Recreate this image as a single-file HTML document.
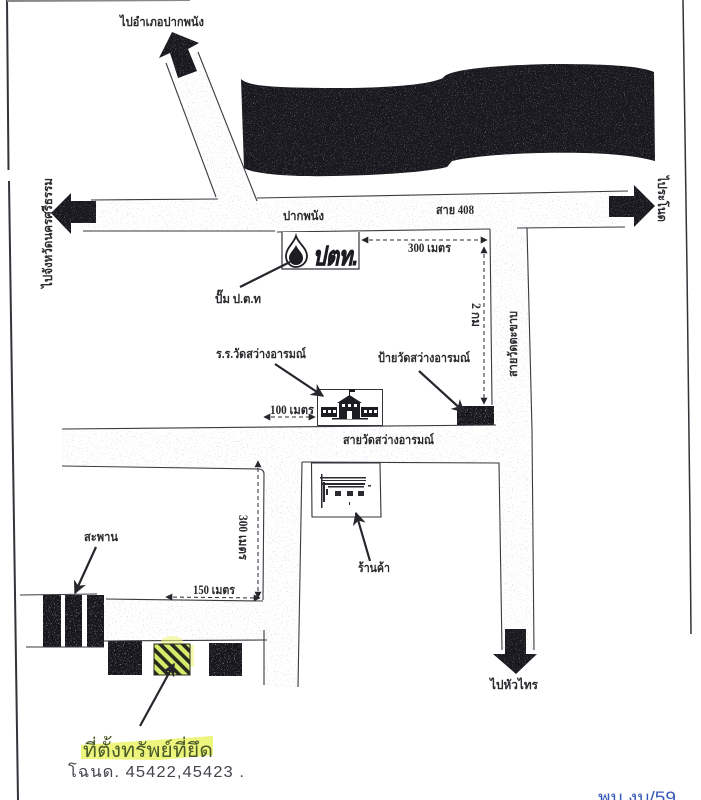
<!DOCTYPE html>
<html lang="th"><head><meta charset="utf-8"><title>แผนที่</title>
<style>
html,body{margin:0;padding:0;background:#fff;width:701px;height:800px;overflow:hidden}
svg{display:block}
text{font-family:"Liberation Serif","Noto Serif CJK SC",serif;font-weight:bold;fill:#2a2a2e;font-size:12.5px}
.h{font-family:"Liberation Sans","Noto Sans CJK SC",sans-serif;font-weight:normal}
</style></head><body>
<svg width="701" height="800" viewBox="0 0 701 800" xmlns="http://www.w3.org/2000/svg">
<defs>
<filter id="st" x="0" y="0" width="100%" height="100%">
<feTurbulence type="fractalNoise" baseFrequency="0.8" numOctaves="2" seed="4"/>
<feColorMatrix values="0 0 0 0 0.5 0 0 0 0 0.5 0 0 0 0 0.56 4 0 0 0 -2.5"/>
</filter>
<filter id="sp" x="0" y="0" width="100%" height="100%">
<feTurbulence type="fractalNoise" baseFrequency="0.9" numOctaves="2" seed="9"/>
<feColorMatrix values="0 0 0 0 1 0 0 0 0 1 0 0 0 0 1 4 0 0 0 -2.4"/>
</filter>
<clipPath id="roads">
<polygon points="166,63 198,52 257,199 628,191 625,227 528,228 532,430 534,650 502,650 498,463 302,463 298,687 264,687 264,640 104,641 104,600 264,600 262,469 62,466 62,429 494,425 490,229 277,232 83,231 91,200 217,199"/>
</clipPath>
<clipPath id="darks">
<path d="M241,79 C248,86 270,88 350,88 C400,87 430,84 443,78 C446,72 470,66 550,64 C610,64 640,66 654,72 L655,161 C630,154 590,152 540,153 C500,154 470,157 452,161 L447,167 C420,174 340,177 300,176 C270,175 250,172 244,168 Z"/>
<polygon points="172,32 199,43 188,49 197,71 178,78 170,53 159,58"/>
<polygon points="51,213 71,193 71,201 96,201 96,223 71,223 71,234"/>
<polygon points="655,206 634,185 634,196 609,196 609,217 634,217 634,227"/>
<polygon points="516,674 493,654 505,654 505,629 526,629 526,654 537,654"/>
</clipPath>
<clipPath id="lots">
<rect x="43" y="595" width="18" height="52"/><rect x="65" y="595" width="17" height="52"/><rect x="87" y="595" width="17" height="52"/>
<rect x="108" y="641" width="34" height="34"/><rect x="209" y="643" width="33" height="33"/><rect x="457" y="406" width="37" height="19"/>
</clipPath>
<pattern id="hatch" width="8" height="8" patternUnits="userSpaceOnUse" patternTransform="rotate(-45)">
<rect width="8" height="8" fill="#d8ea6a"/><rect width="3.6" height="8" fill="#25281e"/>
</pattern>
<marker id="ah" viewBox="0 0 10 10" refX="9" refY="5" markerWidth="7" markerHeight="7" orient="auto-start-reverse"><path d="M0,0 L10,5 L0,10 Z" fill="#26262c"/></marker>
<marker id="bh" viewBox="0 0 10 10" refX="9" refY="5" markerWidth="6" markerHeight="6" orient="auto"><path d="M0,0 L10,5 L0,10 L3,5 Z" fill="#26262c"/></marker>
</defs>
<rect width="701" height="800" fill="#fff"/>

<!-- road texture -->
<g clip-path="url(#roads)"><rect width="701" height="800" filter="url(#st)"/></g>

<!-- page frame -->
<g stroke="#33333a" fill="none" stroke-width="2">
<path d="M7,0 L8.500,170 M9,181 L18,800"/>
<path d="M683,0 L687,270 L690,520 L691,634" stroke-width="1.500"/>
<path d="M7,1 L190,0" stroke="#888"/>
</g>

<!-- dark masses -->
<g clip-path="url(#darks)"><rect width="701" height="800" fill="#18181e"/><rect width="701" height="800" filter="url(#sp)" opacity=".5"/></g>
<g clip-path="url(#lots)"><rect width="701" height="800" fill="#16161c"/><rect width="701" height="800" filter="url(#sp)" opacity=".8"/></g>

<!-- road lines -->
<g stroke="#3a3a42" stroke-width="1.100" fill="none">
<path d="M91,200 L218,199"/><path d="M257,198 L628,191"/>
<path d="M83,231 L275,231"/><path d="M277,232 L490,229"/><path d="M517,228 L625,227"/>
<path d="M166,63 L216,197"/><path d="M198,52 L257,201"/>
<path d="M490,229 L492,405"/>
<path d="M527,228 L532,430 L534,650"/>
<path d="M62,429 L496,425"/>
<path d="M62,466 L258,469 Q264,469 264,474 L263,600"/>
<path d="M302,462 L499,463 L502,650"/>
<path d="M302,462 L298,687"/>
<path d="M106,599 L263,601"/>
<path d="M20,595 L97,594"/><path d="M26,647 L104,647"/><path d="M104,641 L267,640"/>
<path d="M264,630 L264,685"/>
</g>

<!-- PTT box -->
<path d="M282,232 V269 H359 V232" fill="#fff" stroke="#33333a" stroke-width="1.200"/>
<path d="M296,236 C298,243 307,248 307,256 C307,263 301,267 296,267 C291,267 286,263 286,256 C286,248 294,243 296,236 Z" fill="#fff" stroke="#1c1c22" stroke-width="1.800"/>
<path d="M296,245 C298,250 303,253 303,258 C303,262 300,265 296,265 C292,265 289,262 289,258 C289,253 294,250 296,245 Z" fill="#1c1c22"/>
<text x="313" y="265" style="font-family:'Liberation Sans','Noto Sans CJK SC',sans-serif;font-size:26px;font-style:italic;font-weight:bold;fill:#1c1c22;stroke:#1c1c22;stroke-width:.9" textLength="45" lengthAdjust="spacingAndGlyphs">ปตท.</text>

<!-- School -->
<rect x="317.500" y="389.500" width="65" height="36" fill="#fff" stroke="#33333a" stroke-width="1"/>
<g fill="#1c1c22">
<rect x="321" y="407" width="16" height="10"/><rect x="361" y="407" width="17" height="10"/>
<rect x="339" y="402" width="21" height="16"/>
<polygon points="337,403 349.500,395 362,403"/>
<rect x="349" y="389" width="1" height="7"/><rect x="350" y="389" width="5" height="3"/>
<rect x="332" y="418" width="36" height="1.500"/>
</g>
<g fill="#fff">
<rect x="323" y="410" width="3" height="3"/><rect x="328" y="410" width="3" height="3"/><rect x="333" y="410" width="3" height="3"/>
<rect x="364" y="410" width="3" height="3"/><rect x="369" y="410" width="3" height="3"/><rect x="374" y="410" width="3" height="3"/>
<rect x="342" y="404" width="3" height="3"/><rect x="348" y="404" width="3" height="3"/><rect x="354" y="404" width="3" height="3"/>
<rect x="347" y="411" width="5" height="8"/>
</g>

<!-- Shop -->
<path d="M311.500,463 H380 L381,517 H312 Z" fill="#fff" stroke="#33333a" stroke-width="1.100"/>
<g fill="#2a2a30">
<rect x="320" y="477" width="46" height="1.500"/><rect x="321" y="480" width="45" height="1"/><rect x="321" y="483" width="44" height="2"/>
<rect x="321" y="474" width="1.500" height="34"/><rect x="323" y="482" width="2" height="20"/>
<rect x="335" y="491" width="6" height="5"/><rect x="347" y="491" width="6" height="5"/><rect x="358" y="491" width="6" height="5"/>
<rect x="326" y="489" width="2" height="6"/><rect x="368" y="485" width="3" height="1.500"/>
<rect x="349" y="502" width="1" height="3"/>
<rect x="328" y="486" width="36" height="1.500"/>
</g>

<!-- Site lot -->
<ellipse cx="172" cy="642" rx="11" ry="6" fill="#eef57c" opacity=".6"/>
<rect x="190" y="645" width="4" height="22" fill="#eef57c" opacity=".6"/>
<rect x="154" y="644" width="36" height="31" fill="url(#hatch)" stroke="#25281e" stroke-width="1"/>

<!-- Dashed dimensions -->
<g stroke="#2a2a30" stroke-width="1" fill="none" stroke-dasharray="4 3">
<path d="M362,240 L487,240" marker-start="url(#ah)" marker-end="url(#ah)"/>
<path d="M484,247 L484,404" marker-start="url(#ah)" marker-end="url(#ah)"/>
<path d="M264,417 L315,417" marker-start="url(#ah)" marker-end="url(#ah)"/>
<path d="M258,461 L258,598" marker-start="url(#ah)" marker-end="url(#ah)"/>
<path d="M166,597 L260,598" marker-start="url(#ah)" marker-end="url(#ah)"/>
</g>

<!-- Callout arrows -->
<g stroke="#26262c" stroke-width="2.200" fill="none">
<path d="M240,287 L290,262"/>
<path d="M275,364 L323,396" marker-end="url(#bh)"/>
<path d="M419,371 L464,412" marker-end="url(#bh)"/>
<path d="M370,561 L356,513" marker-end="url(#bh)"/>
<path d="M96,547 L75,593" marker-end="url(#bh)"/>
<path d="M140,726 L174,664" marker-end="url(#bh)"/>
</g>

<!-- Labels -->
<text x="120" y="26" textLength="84" lengthAdjust="spacingAndGlyphs">ไปอำเภอปากพนัง</text>
<text x="283" y="220" textLength="41" lengthAdjust="spacingAndGlyphs">ปากพนัง</text>
<text x="436" y="214" textLength="38" lengthAdjust="spacingAndGlyphs">สาย 408</text>
<text x="408" y="252" textLength="43" lengthAdjust="spacingAndGlyphs">300 เมตร</text>
<text x="215" y="303" textLength="46" lengthAdjust="spacingAndGlyphs">ปั๊ม ป.ต.ท</text>
<text x="216" y="358" textLength="90" lengthAdjust="spacingAndGlyphs">ร.ร.วัดสว่างอารมณ์</text>
<text x="378" y="362" textLength="92" lengthAdjust="spacingAndGlyphs">ป้ายวัดสว่างอารมณ์</text>
<text x="270" y="414" textLength="44" lengthAdjust="spacingAndGlyphs">100 เมตร</text>
<text x="343" y="444" textLength="91" lengthAdjust="spacingAndGlyphs">สายวัดสว่างอารมณ์</text>
<text x="84" y="541" textLength="34" lengthAdjust="spacingAndGlyphs">สะพาน</text>
<text x="193" y="594" textLength="42" lengthAdjust="spacingAndGlyphs">150 เมตร</text>
<text x="358" y="572" textLength="32" lengthAdjust="spacingAndGlyphs">ร้านค้า</text>
<text x="490" y="689" textLength="48" lengthAdjust="spacingAndGlyphs">ไปหัวไทร</text>
<text transform="translate(52,288) rotate(-90)" textLength="110" lengthAdjust="spacingAndGlyphs">ไปจังหวัดนครศรีธรรม</text>
<text transform="translate(658,176) rotate(90)" textLength="46" lengthAdjust="spacingAndGlyphs">ไประโนด</text>
<text transform="translate(472,303) rotate(90)" textLength="24" lengthAdjust="spacingAndGlyphs">2 กม</text>
<text transform="translate(517,377) rotate(-90)" textLength="66" lengthAdjust="spacingAndGlyphs">สายวัดตะขาบ</text>
<text transform="translate(239,515) rotate(90)" textLength="45" lengthAdjust="spacingAndGlyphs">300 เมตร</text>

<!-- Handwriting -->
<path d="M81,745 L213,736 L213,755 L160,760 L81,759 Z" fill="#eef57c"/>
<text class="h" x="83" y="757" style="font-size:20px;fill:#4a5a2a" textLength="130" lengthAdjust="spacingAndGlyphs">ที่ตั้งทรัพย์ที่ยึด</text>
<text class="h" x="68" y="777" style="font-size:16px;fill:#44444c;letter-spacing:1px" textLength="177" lengthAdjust="spacingAndGlyphs">โฉนด. 45422,45423 .</text>
<text class="h" x="598" y="803" style="font-size:17px;fill:#3557b8" textLength="78" lengthAdjust="spacingAndGlyphs">พบ.งบ/59</text>
</svg>
</body></html>
